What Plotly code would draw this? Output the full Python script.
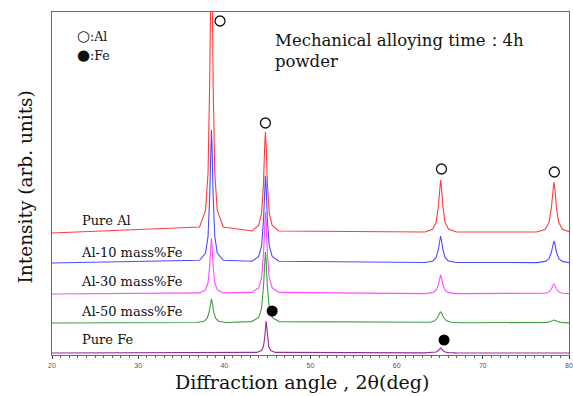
import plotly.graph_objects as go

# ---- data (2theta in deg, intensity in arb. units above each pattern's baseline)
PURE_AL_X = [20, 37.13, 37.82, 38.11, 38.3, 38.42, 38.5, 38.58, 38.7, 38.89, 39.18, 39.87,
             43.21, 43.99, 44.33, 44.55, 44.68, 44.77, 44.86, 44.99, 45.21, 45.55, 46.33,
             63.28, 64.19, 64.58, 64.84, 65.0, 65.1, 65.2, 65.36, 65.62, 66.01, 66.92,
             76.25, 77.25, 77.68, 77.96, 78.13, 78.25, 78.37, 78.54, 78.82, 79.25, 80]
PURE_AL_Y = [0, 6, 22.5, 60, 150, 258, 300, 258, 150, 60, 22.5, 6,
             2, 7.6, 20, 50.5, 87, 101, 87, 50.5, 20, 7.6, 2,
             1, 4, 10.6, 26.5, 45.6, 53, 45.6, 26.5, 10.6, 4, 1,
             1, 3.8, 10.2, 25.5, 43.9, 51, 43.9, 25.5, 10.2, 3.8, 1.3]

AL10_X = PURE_AL_X
AL10_Y = [0, 2.7, 10, 26.6, 66.5, 114, 133, 114, 66.5, 26.6, 10, 2.7,
          1.7, 6.5, 17.4, 43.5, 75, 87, 75, 43.5, 17.4, 6.5, 1.7,
          0.5, 2, 5.4, 13.5, 23, 27, 23, 13.5, 5.4, 2, 0.5,
          0.4, 1.6, 4.4, 11, 19, 22, 19, 11, 4.4, 1.6, 0.4]

AL30_X = PURE_AL_X
AL30_Y = [0, 1.1, 4.2, 11.2, 28, 48, 56, 48, 28, 11.2, 4.2, 1.1,
          1.6, 6.2, 16.4, 41, 70.5, 82, 70.5, 41, 16.4, 6.2, 1.6,
          0.4, 1.4, 3.8, 9.5, 16.3, 19, 16.3, 9.5, 3.8, 1.4, 0.4,
          0.2, 0.75, 2, 5, 8.6, 10, 8.6, 5, 2, 0.75, 0.2]

AL50_X = [20, 36.81, 37.65, 38.02, 38.26, 38.4, 38.5, 38.6, 38.74, 38.98, 39.35, 40.19,
          43.16, 43.97, 44.31, 44.54, 44.68, 44.77, 44.86, 45.0, 45.23, 45.57, 46.38,
          62.7, 63.9, 64.41, 64.75, 64.96, 65.1, 65.24, 65.45, 65.79, 66.3, 67.5,
          75.8, 76.85, 77.45, 77.85, 78.09, 78.25, 78.41, 78.65, 79.05, 79.65, 80]
AL50_Y = [0, 0.5, 1.8, 4.8, 12, 20.6, 24, 20.6, 12, 4.8, 1.8, 0.5,
          1.4, 5.3, 14.2, 35.5, 61, 71, 61, 35.5, 14.2, 5.3, 1.4,
          0.2, 0.8, 2.2, 5.5, 9.5, 11, 9.5, 5.5, 2.2, 0.8, 0.2,
          0.06, 0.2, 0.6, 1.5, 2.6, 3, 2.6, 1.5, 0.6, 0.2, 0.1]

PURE_FE_X = [20, 43.77, 44.31, 44.54, 44.69, 44.79, 44.85, 44.91, 45.01, 45.16, 45.39, 45.93,
             63.28, 64.19, 64.58, 64.84, 65.0, 65.1, 65.2, 65.36, 65.62, 66.01, 66.92, 80]
PURE_FE_Y = [0, 0.6, 2.4, 6.4, 16, 27.5, 32, 27.5, 16, 6.4, 2.4, 0.6,
             0.1, 0.4, 1, 2.5, 4.3, 5, 4.3, 2.5, 1, 0.4, 0.1, 0]

SERIES_NAMES = ["Pure Al", "Al-10 mass%Fe", "Al-30 mass%Fe", "Al-50 mass%Fe", "Pure Fe"]
SERIES_OFFSETS = [122, 92, 61, 32, 2]
SERIES_COLORS = ["#ff3b3b", "#4b4bff", "#ff4dff", "#3fa03f", "#9a2a9a"]
LABEL_Y = [135, 103, 74, 44, 16]

AL_MARK_X = [39.5, 44.77, 65.2, 78.3]
AL_MARK_Y = [334, 232, 186, 183]
FE_MARK_X = [45.55, 65.5]
FE_MARK_Y = [44, 15]

XTICKS = [20, 30, 40, 50, 60, 70, 80]

SERIF = "DejaVu Serif"

fig = go.Figure()
xs = [PURE_AL_X, AL10_X, AL30_X, AL50_X, PURE_FE_X]
ys = [PURE_AL_Y, AL10_Y, AL30_Y, AL50_Y, PURE_FE_Y]
for name, x, y, off, col in zip(SERIES_NAMES, xs, ys, SERIES_OFFSETS, SERIES_COLORS):
    fig.add_trace(go.Scatter(x=x, y=[v + off for v in y], mode="lines", name=name,
                             line=dict(color=col, width=1.1), showlegend=False))

fig.add_trace(go.Scatter(x=AL_MARK_X, y=AL_MARK_Y, mode="markers", showlegend=False,
                         marker=dict(symbol="circle-open", size=10, color="#111",
                                     line=dict(width=1.3, color="#111"))))
fig.add_trace(go.Scatter(x=FE_MARK_X, y=FE_MARK_Y, mode="markers", showlegend=False,
                         marker=dict(symbol="circle", size=11, color="#000")))

for name, ly in zip(SERIES_NAMES, LABEL_Y):
    fig.add_annotation(x=23.2 if name.startswith("Pure") else 23.1, y=ly, text=name,
                       showarrow=False, xanchor="left", yanchor="middle",
                       font=dict(family=SERIF, size=13, color="#111"))

fig.add_annotation(xref="paper", yref="paper", x=0.044, y=0.93,
                   text="<span style='font-size:15px'>○</span>:Al", showarrow=False,
                   xanchor="left", yanchor="middle", font=dict(family=SERIF, size=12.5, color="#111"))
fig.add_annotation(xref="paper", yref="paper", x=0.044, y=0.874,
                   text="<span style='font-size:15px'>●</span>:Fe", showarrow=False,
                   xanchor="left", yanchor="middle", font=dict(family=SERIF, size=12.5, color="#111"))
fig.add_annotation(xref="paper", yref="paper", x=0.428, y=0.95,
                   text="Mechanical alloying time：4h<br>powder", showarrow=False, align="left",
                   xanchor="left", yanchor="top", font=dict(family=SERIF, size=16.5, color="#111"))

fig.add_annotation(xref="paper", yref="paper", x=0.483, y=-0.08, text="Diffraction angle , 2θ(deg)",
                   showarrow=False, xanchor="center", yanchor="middle",
                   font=dict(family=SERIF, size=19, color="#111"))
fig.add_annotation(xref="paper", yref="paper", x=-0.027, y=0.49, text="Intensity (arb. units)",
                   textangle=-90, showarrow=False, xanchor="right", yanchor="middle",
                   font=dict(family=SERIF, size=18.5, color="#111"))

fig.update_xaxes(range=[20, 80], tickvals=XTICKS, ticks="outside", ticklen=3, tickwidth=1,
                 tickcolor="#444", tickfont=dict(size=7, color="#555", family="Arial"),
                 minor=dict(dtick=1, ticks="outside", ticklen=2, tickcolor="#666"),
                 showline=True, linecolor="#ff2a2a", linewidth=1.3, mirror=True,
                 showgrid=False, zeroline=False, automargin=False)
fig.update_yaxes(range=[0, 343], showticklabels=False, ticks="", showline=True,
                 linecolor="#ff2a2a", linewidth=1.3, mirror=True, showgrid=False, zeroline=False,
                 automargin=False)

fig.update_layout(width=573, height=396, margin=dict(l=52, r=4, t=12, b=41, autoexpand=False),
                  plot_bgcolor="white", paper_bgcolor="white")

fig.write_html("out.html")
